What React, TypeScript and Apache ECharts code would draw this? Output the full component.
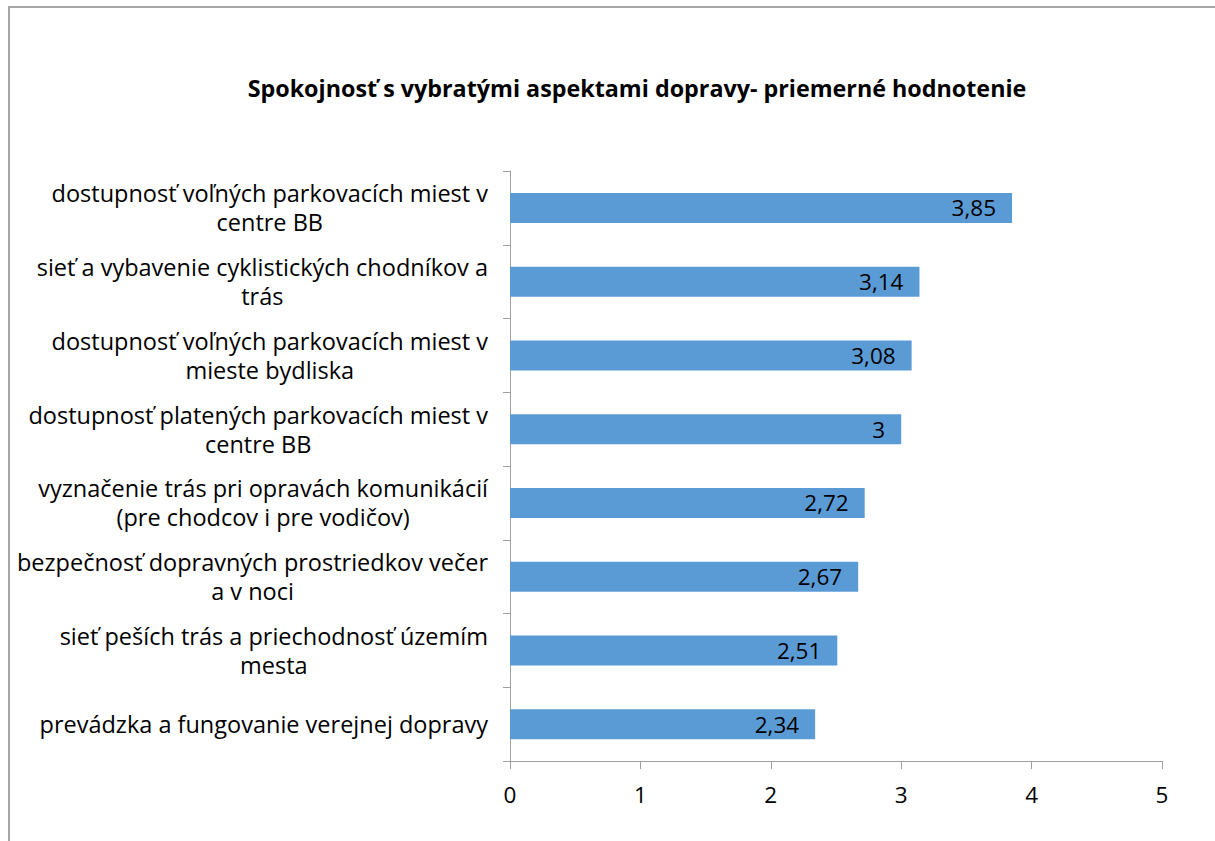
import React, { useEffect, useRef } from "react";
import * as echarts from "echarts";

const titleText = "Spokojnosť s vybratými aspektami dopravy- priemerné hodnotenie";

const categories = [
  "dostupnosť voľných parkovacích miest v\ncentre BB",
  "sieť a vybavenie cyklistických chodníkov a\ntrás",
  "dostupnosť voľných parkovacích miest v\nmieste bydliska",
  "dostupnosť platených parkovacích miest v\ncentre BB",
  "vyznačenie trás pri opravách komunikácií\n(pre chodcov i pre vodičov)",
  "bezpečnosť dopravných prostriedkov večer\na v noci",
  "sieť peších trás a priechodnosť územím\nmesta",
  "prevádzka a fungovanie verejnej dopravy",
];

const values = [3.85, 3.14, 3.08, 3, 2.72, 2.67, 2.51, 2.34];

const xTicks = [0, 1, 2, 3, 4, 5];

const FONT = "'Open Sans', 'Noto Sans', sans-serif";

export default function App() {
  const ref = useRef<HTMLDivElement>(null);
  useEffect(() => {
    if (!ref.current) return;
    const chart = echarts.init(ref.current, undefined, { renderer: "svg" });
    chart.setOption({
      animation: false,
      backgroundColor: "#ffffff",
      textStyle: { fontFamily: FONT },
      title: {
        text: titleText,
        left: 632,
        textAlign: "center",
        top: 71,
        textStyle: { fontFamily: FONT, fontWeight: "bold", fontSize: 23.3, color: "#000" },
      },
      graphic: [
        {
          type: "rect",
          shape: { x: 9, y: 7, width: 1230, height: 860 },
          style: { fill: "none", stroke: "#a6a6a6", lineWidth: 2 },
          silent: true,
        },
      ],
      grid: { left: 510, right: 53, top: 171, bottom: 80, containLabel: false },
      xAxis: {
        type: "value",
        min: xTicks[0],
        max: xTicks[xTicks.length - 1],
        interval: 1,
        splitLine: { show: false },
        axisLine: { show: true, lineStyle: { color: "#a0a0a0", width: 1 } },
        axisTick: { show: true, length: 8, lineStyle: { color: "#a0a0a0" } },
        axisLabel: {
          margin: 22,
          fontSize: 22.5,
          color: "#000",
          fontFamily: FONT,
          formatter: (v: number) => String(v),
        },
      },
      yAxis: {
        type: "category",
        data: categories,
        inverse: true,
        axisLine: { show: true, lineStyle: { color: "#a0a0a0", width: 1 } },
        axisTick: { show: true, length: 7, lineStyle: { color: "#a0a0a0" } },
        axisLabel: {
          margin: 22,
          fontSize: 23.5,
          color: "#000",
          fontFamily: FONT,
          lineHeight: 29,
          formatter: (v: string) =>
            v
              .split("\n")
              .map((l) => "{c|" + l + "}")
              .join("\n"),
          rich: {
            c: { align: "center", fontSize: 23.5, lineHeight: 29, color: "#000", fontFamily: FONT },
          },
        },
      },
      series: [
        {
          type: "bar",
          data: values,
          barWidth: 30,
          itemStyle: { color: "#5b9bd5" },
          label: {
            show: true,
            position: "insideRight",
            distance: 16,
            fontSize: 22.5,
            color: "#000",
            fontFamily: FONT,
            formatter: (p: any) => String(p.value).replace(".", ","),
          },
        },
      ],
    });
    return () => chart.dispose();
  }, []);
  return (
    <div
      ref={ref}
      style={{ position: "fixed", left: 0, top: 0, width: 1215, height: 841 }}
    />
  );
}
